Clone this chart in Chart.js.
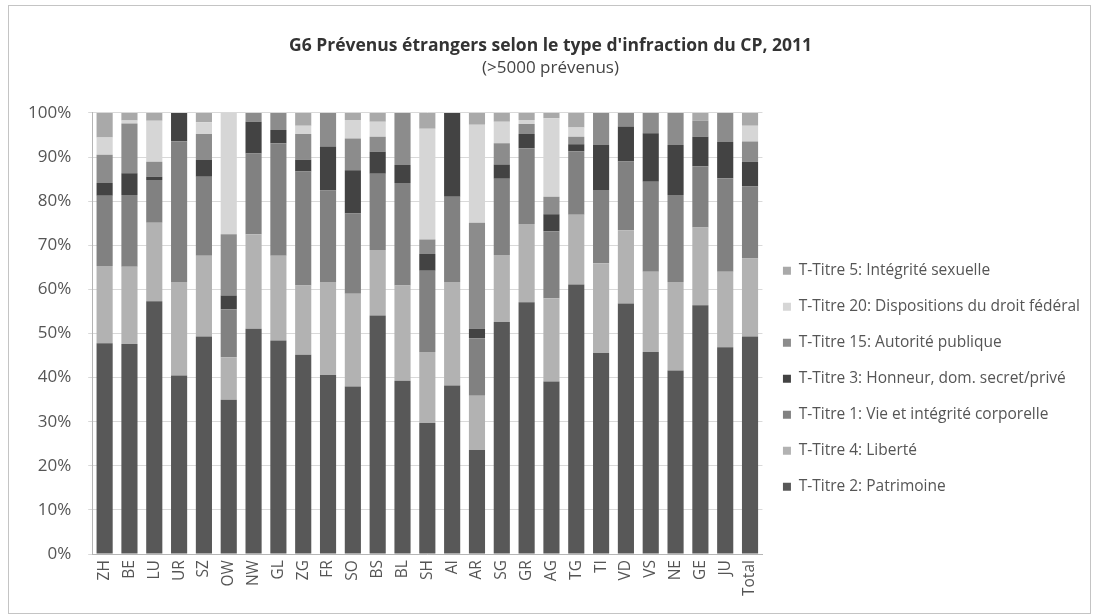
<!DOCTYPE html>
<html>
<head>
<meta charset="utf-8">
<script src="https://cdn.jsdelivr.net/npm/chart.js@4/dist/chart.umd.min.js"></script>
<style>
  html, body { margin: 0; padding: 0; background: #fff; }
  #frame {
    position: absolute; left: 8px; top: 5px;
    width: 1081px; height: 607px;
    border: 1px solid #c4c4c4;
  }
  #wrap { position: absolute; left: 0; top: 0; width: 1081px; height: 607px; }
</style>
</head>
<body>
<div id="frame"><div id="wrap"><canvas id="chart"></canvas></div></div>
<script>
// Cantons
const cantons = ['ZH','BE','LU','UR','SZ','OW','NW','GL','ZG','FR','SO','BS','BL','SH',
                 'AI','AR','SG','GR','AG','TG','TI','VD','VS','NE','GE','JU','Total'];

// shares in %
const patrimoine = [47.8,47.6,57.3,40.5,49.3,35.0,51.1,48.4,45.2,40.6,38.0,54.1,39.3,29.7,
                    38.2,23.6,52.6,57.1,39.1,61.1,45.6,56.8,45.8,41.6,56.4,46.9,49.3];
const liberte    = [17.5,17.5,17.8,21.2,18.3,9.6,21.4,19.2,15.7,21.1,21.0,14.8,21.6,16.1,
                    23.5,12.3,15.2,17.7,18.9,15.8,20.3,16.6,18.2,20.1,17.6,17.1,17.7];
const vie        = [15.9,16.3,9.7,31.9,17.9,10.9,18.3,25.5,25.8,20.7,18.2,17.3,23.2,18.4,
                    19.3,13.0,17.3,17.2,15.2,14.4,16.6,15.6,20.4,19.7,13.9,21.2,16.3];
const honneur    = [2.9,4.9,0.7,6.4,3.8,3.1,7.2,3.0,2.7,10.0,9.8,5.0,4.1,3.8,
                    19.0,2.2,3.2,3.2,3.8,1.6,10.2,7.9,11.0,11.3,6.7,8.2,5.6];
const autorite   = [6.4,11.3,3.4,0,5.9,13.9,2.0,3.9,5.8,7.6,7.2,3.4,11.8,3.3,
                    0,24.0,4.8,2.3,4.0,1.7,7.3,3.1,4.6,7.3,3.6,6.6,4.6];
const droitFed   = [3.9,0.7,9.3,0,2.7,27.5,0,0,1.9,0,4.2,3.4,0,25.1,
                    0,22.2,4.9,0.9,17.8,2.1,0,0,0,0,0,0,3.6];
const sexuelle   = [5.6,1.7,1.8,0,2.1,0,0,0,2.9,0,1.6,2.0,0,3.6,
                    0,2.7,2.0,1.6,1.2,3.3,0,0,0,0,1.8,0,2.9];

const yTicks = [0,10,20,30,40,50,60,70,80,90,100];

const font = "'Open Sans', 'Liberation Sans', sans-serif";

const series = [
  { label: 'T-Titre 2: Patrimoine', data: patrimoine, color: '#585858' },
  { label: 'T-Titre 4: Liberté', data: liberte, color: '#b2b2b2' },
  { label: 'T-Titre 1: Vie et intégrité corporelle', data: vie, color: '#818181' },
  { label: 'T-Titre 3: Honneur, dom. secret/privé', data: honneur, color: '#434343' },
  { label: 'T-Titre 15: Autorité publique', data: autorite, color: '#8c8c8c' },
  { label: 'T-Titre 20: Dispositions du droit fédéral', data: droitFed, color: '#d6d6d6' },
  { label: 'T-Titre 5: Intégrité sexuelle', data: sexuelle, color: '#a9a9a9' }
];

new Chart(document.getElementById('chart'), {
  type: 'bar',
  data: {
    labels: cantons,
    datasets: series.map(s => ({
      label: s.label,
      data: s.data,
      backgroundColor: s.color,
      borderWidth: 0,
      categoryPercentage: 1,
      barPercentage: 0.65
    }))
  },
  options: {
    responsive: true,
    maintainAspectRatio: false,
    animation: false,
    layout: { padding: { left: 2, right: 0, top: 12, bottom: 11 } },
    plugins: {
      title: {
        display: true,
        text: "G6 Prévenus étrangers selon le type d'infraction du CP, 2011",
        color: '#333',
        font: { family: font, size: 17.5, weight: 'bold' },
        padding: { top: 17.5, bottom: 1 }
      },
      subtitle: {
        display: true,
        text: '(>5000 prévenus)',
        color: '#444',
        font: { family: font, size: 17 },
        padding: { top: 0, bottom: 35 }
      },
      legend: {
        position: 'right',
        align: 'start',
        reverse: true,
        maxWidth: 420,
        title: { display: true, text: ' ', font: { size: 12 }, padding: { top: 210, bottom: 0 } },
        labels: {
          boxWidth: 8,
          boxHeight: 8,
          padding: 20.5,
          color: '#555',
          font: { family: font, size: 15.5 }
        }
      },
      tooltip: { enabled: false }
    },
    scales: {
      x: {
        stacked: true,
        grid: { display: false, drawTicks: false },
        border: { color: '#b5b5b5' },
        ticks: {
          color: '#555',
          font: { family: font, size: 15.5 },
          padding: 6,
          maxRotation: 90,
          minRotation: 90,
          autoSkip: false
        }
      },
      y: {
        stacked: true,
        min: 0,
        max: 100,
        afterBuildTicks: axis => { axis.ticks = yTicks.map(v => ({ value: v })); },
        grid: { color: '#d9d9d9', drawTicks: true, tickLength: 4 },
        border: { color: '#b5b5b5' },
        ticks: {
          color: '#555',
          font: { family: font, size: 17 },
          padding: 17,
          callback: v => v + '%'
        }
      }
    }
  }
});
</script>
</body>
</html>
